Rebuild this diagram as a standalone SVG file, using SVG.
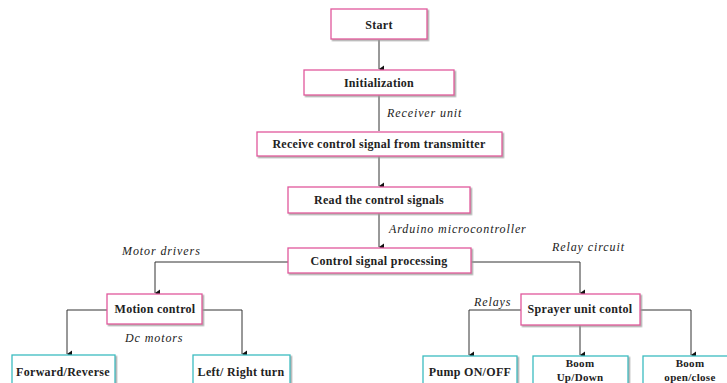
<svg xmlns="http://www.w3.org/2000/svg" width="727" height="383" viewBox="0 0 727 383">
<defs>
<marker id="ah" markerWidth="8" markerHeight="8" refX="4" refY="7" orient="auto" markerUnits="userSpaceOnUse">
<path d="M0.5,2 L4,7 L7.5,2 Z" fill="#111"/>
</marker>
<filter id="sh" x="-5%" y="-10%" width="115%" height="130%">
<feDropShadow dx="1.5" dy="1.5" stdDeviation="0.6" flood-color="#999" flood-opacity="0.8"/>
</filter>
</defs>
<style>
.box{fill:#fff;stroke:#e0589c;stroke-width:1.3;filter:url(#sh)}
.leaf{fill:#fff;stroke:#3cbcc0;stroke-width:1.3;filter:url(#sh)}
.t{font-family:'Liberation Serif','Times New Roman','DejaVu Serif',serif;font-size:12px;font-weight:bold;fill:#222;text-anchor:middle;letter-spacing:0.3px}
.s{font-size:11px}
.lb{font-family:'Liberation Serif','Times New Roman','DejaVu Serif',serif;font-size:12px;font-style:italic;fill:#222;letter-spacing:0.9px}
.c{fill:none;stroke:#333;stroke-width:1}
.a{marker-end:url(#ah)}
</style>
<rect width="727" height="383" fill="#fff"/>
<g id="connectors">
<path class="c a" d="M379,40 V69"/>
<path class="c" d="M379,95 V131"/>
<path class="c a" d="M379,156 V186"/>
<path class="c a" d="M379,213 V247"/>
<path class="c a" d="M288,262 H155 V293"/>
<path class="c a" d="M471,262 H580 V293"/>
<path class="c a" d="M107,310 H67 V354"/>
<path class="c a" d="M202,310 H242 V354"/>
<path class="c a" d="M521,310 H469 V355"/>
<path class="c a" d="M580,325 V355"/>
<path class="c a" d="M640,310 H691 V355"/>
</g>
<g id="labels">
<text class="lb" x="387" y="117">Receiver unit</text>
<text class="lb" x="389" y="233">Arduino microcontroller</text>
<text class="lb" x="122" y="255">Motor drivers</text>
<text class="lb" x="552" y="251">Relay circuit</text>
<text class="lb" x="125" y="342">Dc motors</text>
<text class="lb" x="474" y="306">Relays</text>
</g>
<g id="start"><rect class="box" x="331" y="9" width="96" height="30"/><text class="t" x="379" y="29">Start</text></g>
<g id="init"><rect class="box" x="304" y="70" width="150" height="25"/><text class="t" x="379" y="87">Initialization</text></g>
<g id="receive"><rect class="box" x="257" y="132" width="245" height="24"/><text class="t" x="379" y="148">Receive control signal from transmitter</text></g>
<g id="read"><rect class="box" x="288" y="187" width="182" height="26"/><text class="t" x="379" y="204">Read the control signals</text></g>
<g id="process"><rect class="box" x="288" y="248" width="183" height="25"/><text class="t" x="379" y="265">Control signal processing</text></g>
<g id="motion"><rect class="box" x="107" y="294" width="95" height="30"/><text class="t" x="155" y="313">Motion control</text></g>
<g id="sprayer"><rect class="box" x="521" y="294" width="119" height="31"/><text class="t" x="580" y="313">Sprayer unit contol</text></g>
<g id="forward"><rect class="leaf" x="12" y="355" width="103" height="40"/><text class="t" x="63" y="376">Forward/Reverse</text></g>
<g id="leftright"><rect class="leaf" x="193" y="355" width="97" height="40"/><text class="t" x="241" y="376">Left/ Right turn</text></g>
<g id="pump"><rect class="leaf" x="423" y="356" width="94" height="40"/><text class="t" x="470" y="376">Pump ON/OFF</text></g>
<g id="boomud"><rect class="leaf" x="533" y="356" width="95" height="40"/><text class="t s" x="580" y="367">Boom</text><text class="t s" x="580" y="381">Up/Down</text></g>
<g id="boomoc"><rect class="leaf" x="643" y="356" width="95" height="40"/><text class="t s" x="690" y="367">Boom</text><text class="t s" x="690" y="381">open/close</text></g>
</svg>
